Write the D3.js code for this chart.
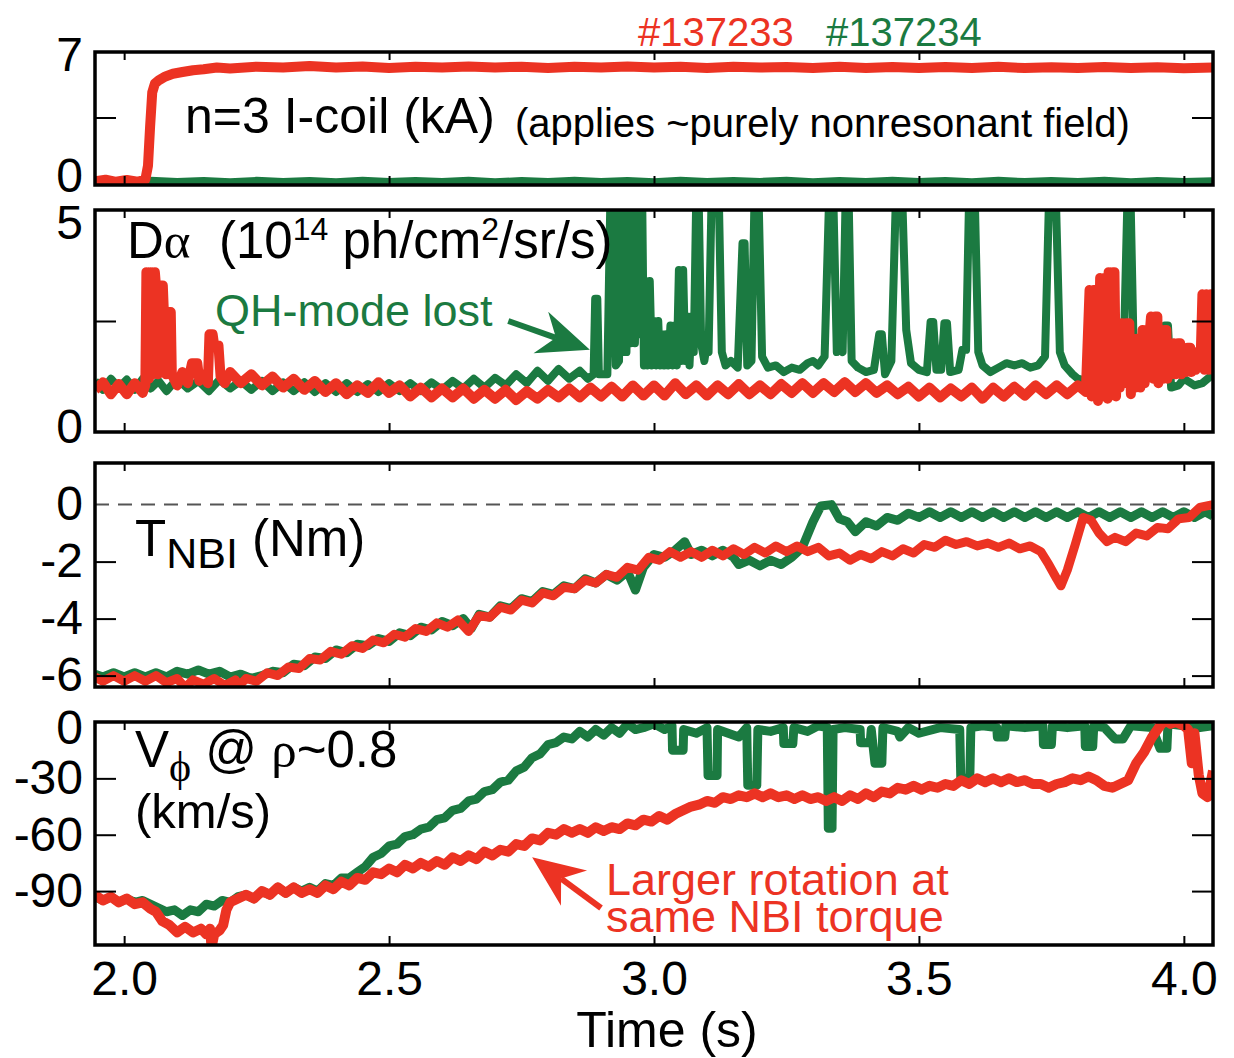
<!DOCTYPE html>
<html>
<head>
<meta charset="utf-8">
<script src="https://cdn.jsdelivr.net/npm/d3@7"></script>
<style>
  body { margin: 0; background: #fff; }
  text { font-family: "Liberation Sans", Arial, Helvetica, sans-serif; }
</style>
</head>
<body>
<svg id="chart" width="1234" height="1058"></svg>
<script>
// ---- data (time in s) ----
const xTicks = [2.0, 2.5, 3.0, 3.5, 4.0];

// n=3 I-coil current (kA)
const icoilLabels = [0, 7];
const icoilTicks = [3.5];
const icoilRed = [[1.945,-0.08],[1.965,0.02],[1.985,-0.1],[2.005,0.0],[2.025,-0.1],[2.04,0.02],[2.045,0.8],[2.049,3.0],[2.053,4.9],[2.058,5.4],[2.066,5.6],[2.078,5.8],[2.092,5.95],[2.11,6.05],[2.13,6.15],[2.15,6.2],[2.175,6.3],[2.2,6.25],[2.25,6.35],[2.3,6.3],[2.35,6.38],[2.4,6.3],[2.45,6.36],[2.5,6.28],[2.55,6.35],[2.6,6.3],[2.65,6.36],[2.7,6.3],[2.75,6.35],[2.8,6.28],[2.85,6.34],[2.9,6.3],[2.95,6.36],[3.0,6.3],[3.05,6.34],[3.1,6.28],[3.15,6.35],[3.2,6.3],[3.25,6.33],[3.3,6.27],[3.35,6.34],[3.4,6.28],[3.45,6.33],[3.5,6.27],[3.55,6.33],[3.6,6.28],[3.65,6.34],[3.7,6.27],[3.75,6.32],[3.8,6.27],[3.85,6.33],[3.9,6.27],[3.95,6.32],[4.0,6.26],[4.055,6.3]];
const icoilGreen = [[1.945,-0.04],[2.0,-0.1],[2.05,-0.02],[2.1,-0.09],[2.15,-0.03],[2.2,-0.1],[2.25,-0.02],[2.3,-0.08],[2.35,-0.03],[2.4,-0.1],[2.45,-0.02],[2.5,-0.09],[2.55,-0.03],[2.6,-0.08],[2.65,-0.02],[2.7,-0.1],[2.75,-0.03],[2.8,-0.09],[2.85,-0.02],[2.9,-0.08],[2.95,-0.03],[3.0,-0.1],[3.05,-0.02],[3.1,-0.09],[3.15,-0.03],[3.2,-0.08],[3.25,-0.02],[3.3,-0.1],[3.35,-0.03],[3.4,-0.09],[3.45,-0.02],[3.5,-0.08],[3.55,-0.03],[3.6,-0.1],[3.65,-0.02],[3.7,-0.09],[3.75,-0.03],[3.8,-0.08],[3.85,-0.02],[3.9,-0.1],[3.95,-0.03],[4.0,-0.09],[4.055,-0.04]];

// D-alpha (1e14 ph/cm2/sr/s)
const dalphaLabels = [0, 5];
const dalphaTicks = [2.5];
const dalphaGreen = [[1.945,1.15],[1.96,0.95],[1.975,1.2],[1.99,1.0],[2.005,1.18],[2.02,0.95],[2.035,1.2],[2.05,0.98],[2.065,1.15],[2.08,0.92],[2.1,1.2],[2.12,0.98],[2.14,1.15],[2.16,0.92],[2.18,1.18],[2.2,0.98],[2.22,1.15],[2.24,0.95],[2.26,1.15],[2.28,0.92],[2.3,1.12],[2.32,0.92],[2.34,1.12],[2.36,0.9],[2.38,1.1],[2.4,0.9],[2.42,1.1],[2.44,0.9],[2.46,1.08],[2.48,0.9],[2.5,1.1],[2.52,0.92],[2.54,1.1],[2.56,0.92],[2.58,1.12],[2.6,0.95],[2.62,1.15],[2.64,0.98],[2.66,1.2],[2.68,1.0],[2.7,1.22],[2.72,1.05],[2.74,1.3],[2.76,1.1],[2.78,1.38],[2.8,1.15],[2.82,1.42],[2.84,1.2],[2.86,1.38],[2.875,1.2],[2.886,1.3],
  [2.889,3.0],[2.893,3.0],[2.896,1.3],[2.912,1.3],[2.918,5.5],[2.922,5.5],[2.928,1.5],[2.934,1.6],
  [2.936,5.5],[2.94,1.8],[2.944,5.5],[2.948,1.8],[2.952,5.5],[2.956,2.0],[2.96,5.5],[2.964,2.0],[2.968,5.5],[2.972,2.2],[2.975,5.5],
  [2.978,4.95],[2.981,1.5],[2.984,3.4],[2.988,1.5],[2.992,3.4],[2.996,1.5],[3.0,2.5],[3.004,1.5],[3.008,2.5],[3.011,1.5],[3.015,2.2],[3.019,1.5],[3.023,2.2],[3.027,1.5],[3.031,2.4],[3.035,1.5],[3.039,2.4],[3.043,1.5],[3.047,3.65],[3.051,1.6],[3.055,3.65],[3.059,1.6],[3.063,2.6],[3.067,1.5],[3.071,2.6],[3.075,1.8],
  [3.08,5.5],[3.084,5.5],[3.089,2.0],[3.095,1.6],[3.1,2.0],[3.103,1.8],[3.109,5.5],[3.122,5.5],[3.128,1.8],[3.135,1.5],[3.145,1.6],[3.158,1.45],
  [3.167,4.25],[3.171,4.25],[3.176,1.5],[3.184,1.6],[3.19,5.5],[3.197,5.5],[3.204,1.7],[3.215,1.45],[3.23,1.5],[3.245,1.35],[3.26,1.45],[3.275,1.4],[3.29,1.55],[3.3,1.6],[3.31,1.5],[3.322,1.7],
  [3.331,5.5],[3.338,5.5],[3.345,1.8],[3.35,1.9],[3.356,1.8],[3.362,5.5],[3.367,5.5],[3.373,1.6],[3.385,1.45],[3.4,1.35],[3.415,1.4],
  [3.425,2.2],[3.43,2.2],[3.436,1.3],[3.448,1.6],[3.457,5.5],[3.468,5.5],[3.476,2.3],[3.485,1.55],[3.5,1.4],[3.515,1.35],
  [3.522,2.48],[3.527,2.48],[3.533,1.4],[3.542,1.4],[3.548,2.45],[3.553,2.45],[3.559,1.35],[3.575,1.4],[3.582,1.85],[3.589,1.85],[3.595,5.5],[3.605,5.5],[3.612,1.8],[3.62,1.5],[3.635,1.35],[3.65,1.45],[3.665,1.55],[3.68,1.5],[3.695,1.55],[3.71,1.45],[3.725,1.5],[3.738,1.7],
  [3.746,5.5],[3.758,5.5],[3.766,1.8],[3.775,1.5],[3.79,1.3],[3.8,1.2],[3.815,1.15],[3.83,1.2],[3.85,1.3],[3.87,1.4],[3.886,1.5],
  [3.894,5.5],[3.899,5.5],[3.905,2.0],[3.92,1.6],[3.94,1.5],[3.958,1.6],[3.964,2.4],[3.97,2.4],[3.976,1.0],[3.99,1.05],[4.0,1.2],[4.02,1.05],[4.035,1.1],[4.055,1.3]];
const dalphaRed = [[1.945,0.95],[1.96,1.12],[1.975,0.85],[1.99,1.08],[2.005,0.85],[2.02,1.1],[2.035,0.88],[2.04,1.05],
  [2.042,3.6],[2.047,1.2],[2.05,3.6],[2.055,1.3],[2.058,3.6],[2.06,3.3],[2.064,1.3],[2.068,3.3],[2.073,3.3],[2.075,2.7],[2.079,1.3],[2.084,2.7],[2.088,2.7],[2.09,1.3],
  [2.1,1.05],[2.11,1.35],[2.12,1.1],[2.128,1.55],[2.138,1.55],[2.142,1.15],[2.15,1.3],[2.158,1.1],[2.161,2.2],[2.167,2.2],[2.17,1.95],[2.178,1.95],[2.182,1.25],[2.19,1.1],[2.2,1.35],[2.22,1.1],[2.24,1.3],[2.26,1.05],[2.28,1.25],[2.3,1.0],[2.32,1.2],[2.34,0.95],[2.36,1.15],[2.38,0.9],[2.4,1.1],[2.42,0.85],[2.44,1.05],[2.46,0.88],[2.48,1.12],[2.5,0.88],[2.52,1.05],[2.54,0.8],[2.56,1.0],[2.58,0.78],[2.6,0.98],[2.62,0.78],[2.64,0.98],[2.66,0.75],[2.68,0.95],[2.7,0.75],[2.72,0.95],[2.74,0.72],[2.76,0.92],[2.78,0.75],[2.8,0.95],[2.82,0.78],[2.84,0.98],[2.86,0.78],[2.88,1.0],[2.9,0.8],[2.92,1.02],[2.94,0.8],[2.96,1.05],[2.98,0.82],[3.0,1.05],[3.02,0.82],[3.04,1.1],[3.06,0.85],[3.08,1.05],[3.1,0.82],[3.12,1.05],[3.14,0.85],[3.16,1.08],[3.18,0.85],[3.2,1.05],[3.22,0.85],[3.24,1.08],[3.26,0.88],[3.28,1.1],[3.3,0.88],[3.32,1.1],[3.34,0.9],[3.36,1.12],[3.38,0.9],[3.4,1.1],[3.42,0.88],[3.44,1.05],[3.46,0.85],[3.48,1.02],[3.5,0.8],[3.52,1.0],[3.54,0.78],[3.56,0.98],[3.58,0.8],[3.6,1.0],[3.62,0.75],[3.64,1.0],[3.66,0.8],[3.68,1.02],[3.7,0.82],[3.72,1.05],[3.74,0.85],[3.76,1.05],[3.78,0.85],[3.8,1.05],[3.815,0.9],
  [3.822,3.2],[3.826,0.8],[3.83,3.2],[3.835,3.2],[3.838,0.7],[3.842,3.47],[3.846,0.8],[3.85,3.47],[3.853,3.47],[3.856,0.75],[3.858,3.6],[3.862,0.9],[3.866,3.6],[3.869,3.6],[3.872,0.8],[3.875,2.45],[3.879,1.0],[3.883,2.45],[3.887,1.1],[3.891,2.45],[3.897,2.45],[3.9,0.85],[3.904,2.1],[3.908,1.0],[3.912,2.1],[3.916,2.1],[3.918,1.0],[3.922,2.3],[3.926,1.1],[3.93,2.3],[3.936,2.3],[3.938,2.6],[3.942,1.2],[3.946,2.6],[3.95,2.6],[3.952,1.1],[3.956,2.3],[3.96,1.2],[3.964,2.3],[3.967,2.3],[3.969,1.2],[3.973,2.0],[3.977,1.3],[3.981,2.0],[3.985,1.3],[3.989,2.0],[3.993,2.0],[3.995,1.3],[3.999,1.9],[4.003,1.35],[4.007,1.9],[4.012,1.9],[4.014,1.35],[4.018,1.8],[4.022,1.4],[4.026,1.8],[4.032,1.8],[4.035,3.1],[4.039,1.4],[4.043,3.1],[4.047,1.4],[4.051,3.1],[4.055,1.3]];

// NBI torque (Nm)
const torqueLabels = [0, -2, -4, -6];
const torqueTicks = [-2, -4, -6];
const torqueRed = [[1.945,-6.05],[1.96,-6.2],[1.98,-6.0],[2.0,-6.2],[2.02,-6.0],[2.04,-6.2],[2.06,-6.0],[2.08,-6.25],[2.1,-6.1],[2.115,-6.42],[2.13,-6.15],[2.15,-6.3],[2.17,-6.1],[2.19,-6.35],[2.21,-6.15],[2.215,-6.4],[2.23,-6.1],[2.25,-6.2],[2.27,-5.9],[2.29,-6.0],[2.31,-5.7],[2.33,-5.75],[2.35,-5.4],[2.37,-5.45],[2.39,-5.15],[2.41,-5.25],[2.43,-4.95],[2.45,-5.05],[2.47,-4.75],[2.49,-4.85],[2.51,-4.55],[2.53,-4.65],[2.55,-4.35],[2.57,-4.45],[2.59,-4.15],[2.61,-4.3],[2.63,-4.05],[2.65,-4.45],[2.67,-3.9],[2.69,-3.95],[2.71,-3.6],[2.73,-3.7],[2.75,-3.35],[2.77,-3.45],[2.79,-3.1],[2.81,-3.2],[2.83,-2.9],[2.85,-2.95],[2.87,-2.65],[2.89,-2.75],[2.91,-2.45],[2.93,-2.55],[2.95,-2.2],[2.97,-2.3],[2.99,-1.85],[3.01,-1.95],[3.03,-1.65],[3.05,-1.85],[3.07,-1.65],[3.09,-1.85],[3.11,-1.6],[3.13,-1.8],[3.15,-1.55],[3.17,-1.75],[3.19,-1.5],[3.21,-1.7],[3.23,-1.45],[3.25,-1.65],[3.27,-1.45],[3.29,-1.65],[3.31,-1.5],[3.33,-1.8],[3.35,-1.7],[3.37,-1.95],[3.39,-1.75],[3.41,-1.9],[3.43,-1.65],[3.45,-1.8],[3.47,-1.55],[3.49,-1.7],[3.51,-1.4],[3.53,-1.5],[3.55,-1.25],[3.57,-1.4],[3.59,-1.3],[3.61,-1.45],[3.63,-1.35],[3.65,-1.5],[3.67,-1.35],[3.69,-1.55],[3.71,-1.45],[3.73,-1.65],[3.745,-2.1],[3.76,-2.6],[3.768,-2.85],[3.78,-2.3],[3.795,-1.4],[3.81,-0.45],[3.825,-0.55],[3.84,-1.0],[3.855,-1.3],[3.87,-1.15],[3.89,-1.3],[3.91,-1.0],[3.93,-1.1],[3.95,-0.8],[3.97,-0.85],[3.99,-0.5],[4.01,-0.45],[4.03,-0.1],[4.055,0.0]];
const torqueGreen = [[1.945,-5.95],[1.96,-6.05],[1.98,-5.9],[2.0,-6.05],[2.02,-5.9],[2.04,-6.05],[2.06,-5.9],[2.08,-6.05],[2.1,-5.85],[2.12,-5.95],[2.14,-5.8],[2.16,-5.95],[2.18,-5.85],[2.2,-6.05],[2.22,-5.95],[2.24,-6.1],[2.26,-6.0],[2.28,-5.85],[2.3,-5.9],[2.32,-5.6],[2.34,-5.65],[2.36,-5.35],[2.38,-5.4],[2.4,-5.1],[2.42,-5.2],[2.44,-4.9],[2.46,-4.95],[2.48,-4.7],[2.5,-4.8],[2.52,-4.5],[2.54,-4.6],[2.56,-4.3],[2.58,-4.4],[2.6,-4.1],[2.62,-4.25],[2.64,-4.0],[2.655,-4.35],[2.67,-3.85],[2.69,-3.95],[2.71,-3.55],[2.73,-3.65],[2.75,-3.3],[2.77,-3.4],[2.79,-3.05],[2.81,-3.15],[2.83,-2.85],[2.85,-2.95],[2.87,-2.6],[2.89,-2.75],[2.91,-2.45],[2.93,-2.65],[2.95,-2.35],[2.965,-3.0],[2.98,-2.2],[3.0,-1.75],[3.02,-1.85],[3.04,-1.6],[3.058,-1.3],[3.07,-1.75],[3.09,-1.6],[3.11,-1.8],[3.13,-1.6],[3.15,-1.85],[3.16,-2.1],[3.18,-1.95],[3.2,-2.15],[3.22,-1.95],[3.24,-2.1],[3.26,-1.85],[3.28,-1.5],[3.3,-0.6],[3.315,-0.05],[3.335,0.0],[3.35,-0.5],[3.365,-0.6],[3.38,-0.95],[3.4,-0.6],[3.42,-0.75],[3.44,-0.45],[3.46,-0.55],[3.48,-0.3],[3.5,-0.45],[3.52,-0.25],[3.54,-0.45],[3.56,-0.25],[3.58,-0.45],[3.6,-0.25],[3.62,-0.45],[3.64,-0.25],[3.66,-0.45],[3.68,-0.25],[3.7,-0.45],[3.72,-0.25],[3.74,-0.45],[3.76,-0.25],[3.78,-0.45],[3.8,-0.25],[3.82,-0.45],[3.84,-0.25],[3.86,-0.45],[3.88,-0.25],[3.9,-0.45],[3.92,-0.25],[3.94,-0.45],[3.96,-0.25],[3.98,-0.45],[4.0,-0.25],[4.02,-0.45],[4.04,-0.25],[4.055,-0.4]];

// toroidal rotation at rho~0.8 (km/s)
const vphiLabels = [0, -30, -60, -90];
const vphiTicks = [-30, -60, -90];
const vphiRed = [[1.945,-92],[1.96,-95],[1.975,-93],[1.99,-96],[2.005,-94],[2.02,-97],[2.035,-96],[2.05,-99.5],[2.06,-101],[2.072,-106],[2.085,-108],[2.1,-112],[2.115,-109],[2.13,-112],[2.145,-110],[2.155,-113],[2.162,-110],[2.165,-120],[2.17,-113],[2.18,-111],[2.187,-108],[2.193,-100],[2.2,-96],[2.215,-94],[2.23,-92],[2.245,-94],[2.26,-90],[2.275,-92],[2.29,-88],[2.305,-91],[2.32,-88],[2.335,-91],[2.35,-89],[2.365,-91],[2.38,-87],[2.395,-89],[2.41,-85],[2.425,-87],[2.44,-83],[2.455,-84],[2.47,-80],[2.485,-81],[2.5,-78],[2.515,-80],[2.53,-76],[2.545,-78],[2.56,-75],[2.575,-77],[2.59,-74],[2.605,-76],[2.62,-72],[2.635,-74],[2.65,-71],[2.665,-73],[2.68,-69],[2.695,-71],[2.71,-68],[2.725,-69],[2.74,-65],[2.755,-66],[2.77,-62],[2.785,-63],[2.8,-59],[2.815,-60],[2.83,-57],[2.845,-59],[2.86,-57],[2.875,-59],[2.89,-56],[2.905,-58],[2.92,-56],[2.935,-57],[2.95,-54],[2.965,-55],[2.98,-52],[2.995,-53],[3.01,-50],[3.025,-52],[3.04,-49],[3.055,-47],[3.07,-45],[3.085,-44],[3.1,-42],[3.115,-43],[3.13,-40],[3.145,-41],[3.16,-39],[3.175,-40],[3.19,-38],[3.205,-40],[3.22,-38],[3.235,-40],[3.25,-39],[3.265,-41],[3.28,-39],[3.295,-41],[3.31,-40],[3.325,-42],[3.34,-40],[3.355,-42],[3.37,-39],[3.385,-41],[3.4,-38],[3.415,-40],[3.43,-37],[3.445,-38],[3.46,-35],[3.475,-36],[3.49,-34],[3.505,-36],[3.52,-34],[3.535,-35],[3.55,-33],[3.565,-34],[3.58,-31],[3.595,-33],[3.61,-30],[3.625,-32],[3.64,-30],[3.655,-32],[3.67,-30],[3.685,-32],[3.7,-31],[3.715,-33],[3.73,-33],[3.745,-35],[3.76,-33],[3.775,-32],[3.79,-30],[3.805,-31],[3.82,-29],[3.835,-31],[3.85,-34],[3.865,-35],[3.88,-33],[3.895,-31],[3.91,-22],[3.925,-16],[3.94,-8],[3.955,-2],[3.965,1],[3.975,-1],[3.985,0],[4.0,-2],[4.008,-4],[4.015,-22],[4.02,-6],[4.028,-28],[4.035,-38],[4.045,-40],[4.055,-26]];
const vphiGreen = [[1.945,-93],[1.96,-95],[1.975,-93],[1.99,-96],[2.005,-94],[2.02,-96],[2.035,-95],[2.05,-97],[2.065,-99],[2.08,-101],[2.095,-100],[2.11,-103],[2.125,-100],[2.14,-101],[2.155,-97],[2.17,-98],[2.185,-95],[2.2,-96],[2.215,-93],[2.23,-92],[2.245,-94],[2.26,-90],[2.275,-92],[2.29,-88],[2.305,-91],[2.32,-88],[2.335,-90],[2.35,-88],[2.365,-90],[2.38,-86],[2.395,-87],[2.41,-83],[2.425,-83],[2.44,-80],[2.455,-77],[2.47,-72],[2.485,-70],[2.5,-66],[2.515,-65],[2.53,-61],[2.545,-60],[2.56,-57],[2.575,-56],[2.59,-52],[2.605,-51],[2.62,-47],[2.635,-46],[2.65,-42],[2.665,-41],[2.68,-37],[2.695,-36],[2.71,-32],[2.725,-31],[2.74,-26],[2.755,-24],[2.77,-19],[2.785,-17],[2.8,-12],[2.815,-11],[2.83,-8],[2.845,-9],[2.86,-5],[2.875,-8],[2.89,-4],[2.905,-7],[2.92,-3],[2.935,-6],[2.95,-1],[2.965,-4],[2.98,-3],[3.0,-1],[3.02,-4],[3.034,-2],[3.035,-15],[3.055,-15],[3.056,-4],[3.08,-6],[3.1,-3],[3.102,-28.5],[3.119,-28.5],[3.12,-4],[3.14,-6],[3.16,-8],[3.175,-3],[3.177,-33.7],[3.194,-33.7],[3.196,-4],[3.22,-5],[3.244,-3],[3.245,-11.5],[3.262,-11.5],[3.264,-3],[3.29,-5],[3.31,-2],[3.327,-3],[3.329,-56.6],[3.336,-56.6],[3.338,-4],[3.36,-3],[3.389,-4],[3.39,-11],[3.408,-11],[3.41,-4],[3.417,-22],[3.43,-22],[3.432,-3],[3.46,-5],[3.464,-8],[3.48,-3],[3.5,-6],[3.54,-3],[3.577,-4],[3.579,-30],[3.596,-30],[3.598,-3],[3.62,-2],[3.647,-3],[3.648,-8],[3.662,-8],[3.664,-2],[3.7,-3],[3.734,-2],[3.735,-12],[3.75,-12],[3.752,-2],[3.78,-3],[3.813,-2],[3.814,-13],[3.828,-13],[3.83,-2],[3.85,-3],[3.87,-9],[3.885,-9],[3.9,-2],[3.94,-3],[3.955,-14],[3.968,-14],[3.97,-1],[4.0,-2],[4.03,-3],[4.055,-2]];

// ---- drawing ----
const RED = "#ec3323", GREEN = "#1b7a41";
const svg = d3.select("#chart");
svg.append("rect").attr("width", 1234).attr("height", 1058).attr("fill", "#fff");

const left = 95, right = 1213;
const x = d3.scaleLinear().domain([1.945, 4.055]).range([left, right]);

// labelShift: small vertical nudges (px) for labels that sit on a frame edge
const panels = [
  { top: 52,  bottom: 185, domain: [-0.28, 7.17], labels: icoilLabels, ticks: icoilTicks, labelShift: { 0: -4 },
    series: [[icoilGreen, GREEN, 7], [icoilRed, RED, 10]] },
  { top: 210, bottom: 432, domain: [0, 5], labels: dalphaLabels, ticks: dalphaTicks, labelShift: { 5: 13, 0: -5 },
    series: [[dalphaGreen, GREEN, 8], [dalphaRed, RED, 10]] },
  { top: 463, bottom: 687, domain: [-6.4, 1.46], labels: torqueLabels, ticks: torqueTicks, labelShift: {}, zeroLine: true,
    series: [[torqueGreen, GREEN, 9], [torqueRed, RED, 9]] },
  { top: 722, bottom: 945, domain: [-118.7, 0], labels: vphiLabels, ticks: vphiTicks, labelShift: { 0: 6 },
    series: [[vphiGreen, GREEN, 9], [vphiRed, RED, 10]] }
];

panels.forEach((p, i) => {
  const y = d3.scaleLinear().domain(p.domain).range([p.bottom, p.top]);
  p.y = y;
  const g = svg.append("g");

  g.append("clipPath").attr("id", "clip" + i)
    .append("rect").attr("x", left).attr("y", p.top)
    .attr("width", right - left).attr("height", p.bottom - p.top);

  if (p.zeroLine) {
    g.append("line")
      .attr("x1", left).attr("x2", right)
      .attr("y1", y(0)).attr("y2", y(0))
      .attr("stroke", "#555").attr("stroke-width", 2)
      .attr("stroke-dasharray", "14,9");
  }

  const line = d3.line().x(d => x(d[0])).y(d => y(d[1]));
  p.series.forEach(([data, color, w]) => {
    g.append("path")
      .datum(data)
      .attr("clip-path", "url(#clip" + i + ")")
      .attr("fill", "none")
      .attr("stroke", color)
      .attr("stroke-width", w)
      .attr("stroke-linejoin", "round")
      .attr("d", line);
  });

  // inward ticks on all four sides
  const last = i === panels.length - 1;
  const xb = g.append("g").attr("transform", `translate(0,${p.bottom})`)
    .call(d3.axisBottom(x).tickValues(xTicks).tickSize(-9).tickPadding(16)
      .tickFormat(last ? (d => d.toFixed(1)) : ""));
  const xt = g.append("g").attr("transform", `translate(0,${p.top})`)
    .call(d3.axisTop(x).tickValues(xTicks).tickSize(-8).tickFormat(""));
  const yl = g.append("g").attr("transform", `translate(${left},0)`)
    .call(d3.axisLeft(y).tickValues(p.ticks).tickSize(-21).tickFormat(""));
  const yr = g.append("g").attr("transform", `translate(${right},0)`)
    .call(d3.axisRight(y).tickValues(p.ticks).tickSize(-21).tickFormat(""));
  const ylab = g.append("g").attr("transform", `translate(${left},0)`)
    .call(d3.axisLeft(y).tickValues(p.labels).tickSize(0).tickPadding(12)
      .tickFormat(d => String(d)));

  [xb, xt, yl, yr, ylab].forEach(a => {
    a.select(".domain").remove();
    a.selectAll(".tick line").attr("stroke", "#000").attr("stroke-width", 2);
    a.selectAll(".tick text").attr("font-size", 48).attr("fill", "#000")
      .attr("font-family", "'Liberation Sans', Arial, sans-serif");
  });
  ylab.selectAll(".tick text")
    .attr("transform", d => `translate(0,${p.labelShift[d] || 0})`);

  g.append("rect")
    .attr("x", left).attr("y", p.top)
    .attr("width", right - left).attr("height", p.bottom - p.top)
    .attr("fill", "none").attr("stroke", "#000").attr("stroke-width", 3.5);
});

// ---- text ----
const txt = (x0, y0, size, color) => svg.append("text")
  .attr("x", x0).attr("y", y0).attr("font-size", size).attr("fill", color || "#000");
const SERIF = "'Liberation Serif', 'DejaVu Serif', serif";

txt(638, 46, 40, RED).text("#137233");
txt(826, 46, 40, GREEN).text("#137234");

txt(185, 133, 50).text("n=3 I-coil (kA)");
txt(515, 137, 40).text("(applies ~purely nonresonant field)");

const da = txt(127, 258, 51);
da.append("tspan").text("D");
da.append("tspan").attr("font-family", SERIF).text("\u03b1");
da.append("tspan").text("\u00a0\u00a0(10");
da.append("tspan").attr("font-size", 32).attr("dy", -18).text("14");
da.append("tspan").attr("dy", 18).text(" ph/cm");
da.append("tspan").attr("font-size", 32).attr("dy", -18).text("2");
da.append("tspan").attr("dy", 18).text("/sr/s)");

txt(215, 326, 45, GREEN).text("QH-mode lost");

const tq = txt(135, 556, 51);
tq.append("tspan").text("T");
tq.append("tspan").attr("font-size", 43).attr("dy", 12).text("NBI");
tq.append("tspan").attr("dy", -12).text(" (Nm)");

const vp = txt(135, 767, 51);
vp.append("tspan").text("V");
vp.append("tspan").attr("font-family", SERIF).attr("font-size", 42).attr("dy", 14).text("\u03d5");
vp.append("tspan").attr("dy", -14).text(" @ ");
vp.append("tspan").attr("font-family", SERIF).text("\u03c1");
vp.append("tspan").text("~0.8");
txt(135, 828, 49).text("(km/s)");

txt(606, 895, 45, RED).text("Larger rotation at");
txt(606, 932, 45, RED).text("same NBI torque");

txt(667, 1047, 50).attr("text-anchor", "middle").text("Time (s)");

// ---- arrows (anchored in data units) ----
function arrow(px0, py0, px1, py1, color) {
  const dx = px1 - px0, dy = py1 - py0, len = Math.hypot(dx, dy);
  const ux = dx / len, uy = dy / len, nx = -uy, ny = ux;
  const L = 52, W = 22, notch = 16;
  const bx = px1 - L * ux, by = py1 - L * uy;
  const mx = px1 - (L - notch) * ux, my = py1 - (L - notch) * uy;
  svg.append("line").attr("x1", px0).attr("y1", py0).attr("x2", mx).attr("y2", my)
    .attr("stroke", color).attr("stroke-width", 6);
  svg.append("path")
    .attr("d", `M${px1},${py1}L${bx + W * nx},${by + W * ny}L${mx},${my}L${bx - W * nx},${by - W * ny}Z`)
    .attr("fill", color);
}
const pD = panels[1], pV = panels[3];
arrow(x(2.725), pD.y(2.5), x(2.879), pD.y(1.85), GREEN);
arrow(x(2.9), pV.y(-99), x(2.77), pV.y(-72), RED);
</script>
</body>
</html>
